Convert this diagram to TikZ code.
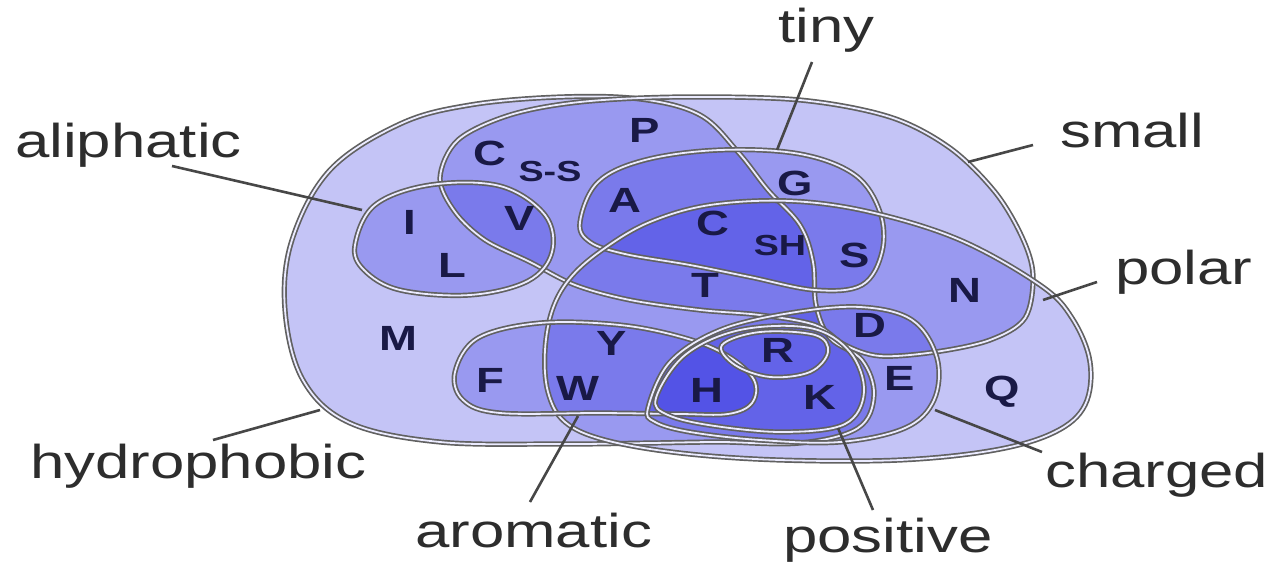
\documentclass[tikz,border=0pt]{standalone}
\usepackage{fontspec}
\setmainfont{Liberation Sans}[FakeStretch=1.3]
\definecolor{setblue}{RGB}{40,40,225}
\definecolor{letterc}{RGB}{25,25,70}
\definecolor{labc}{RGB}{45,45,45}
\begin{document}
\begin{tikzpicture}[x=1pt,y=-1pt,
  setfill/.style={fill=setblue, fill opacity=0.27, draw=none},
  setline/.style={draw=black!62, line width=1.7pt, double=white!92!blue, double distance=1.8pt},
  lab/.style={font=\fontsize{47.5}{50}\selectfont, text=labc, inner sep=0pt, anchor=base west},
  aa/.style={font=\fontsize{35}{36}\selectfont\bfseries, text=letterc, inner sep=0pt},
  sub/.style={font=\fontsize{29}{30}\selectfont\bfseries, text=letterc, inner sep=0pt},
  pointer/.style={draw=black!72, line width=2.6pt}]
\useasboundingbox (0,0) rectangle (1275,563);
\fill[white] (0,0) rectangle (1275,563);

% set outlines (saved)
\path[save path=\hydp] plot[smooth cycle, tension=0.6] coordinates {(400,124) (470,105) (560,97) (640,99) (700,115) (738,152) (768,190) (800,225) (813,262) (816,305) (830,338) (862,360) (874,395) (858,428) (800,443) (720,442) (650,443) (560,444) (440,442) (350,423) (303,380) (285,310) (292,240) (330,170)};
\path[save path=\smallp] plot[smooth cycle, tension=0.55] coordinates {(440,178) (458,140) (510,115) (580,102) (680,97) (800,100) (890,117) (950,148) (995,192) (1022,237) (1033,275) (1025,318) (990,340) (935,352) (880,356) (845,345) (815,325) (760,315) (700,310) (630,300) (575,285) (530,262) (485,240) (455,212)};
\path[save path=\tinyp] plot[smooth cycle, tension=0.6] coordinates {(580,222) (598,182) (645,160) (720,150) (800,154) (855,175) (880,212) (882,252) (862,285) (815,290) (750,277) (690,265) (625,254) (590,242)};
\path[save path=\polarp] plot[smooth cycle, tension=0.6] coordinates {(1040,285) (1072,318) (1090,362) (1085,405) (1055,432) (995,450) (900,460) (780,460) (680,453) (605,440) (565,422) (548,392) (545,350) (553,308) (572,276) (605,248) (650,222) (710,205) (790,201) (870,212) (960,240)};
\path[save path=\aliphp] plot[smooth cycle, tension=0.6] coordinates {(355,245) (375,205) (430,185) (500,186) (545,215) (552,252) (528,281) (470,295) (400,290) (364,270)};
\path[save path=\aromp] plot[smooth cycle, tension=0.6] coordinates {(455,372) (478,338) (540,323) (620,325) (685,338) (728,356) (754,380) (752,403) (728,414) (680,414) (600,413) (500,413) (463,400)};
\path[save path=\chargp] plot[smooth cycle, tension=0.6] coordinates {(648,408) (670,362) (720,330) (790,313) (860,307) (912,320) (937,358) (934,400) (905,428) (840,442) (760,440) (690,432) (655,422)};
\path[save path=\posp] plot[smooth cycle, tension=0.6] coordinates {(656,398) (685,355) (740,330) (810,328) (850,352) (864,392) (845,424) (785,432) (715,426) (668,415)};
\path[save path=\rloopp] plot[smooth cycle, tension=0.6] coordinates {(722,345) (760,332) (815,335) (828,352) (810,372) (770,377) (735,365)};

% fills
\path[setfill, use path=\hydp];
\path[setfill, use path=\smallp];
\path[setfill, use path=\tinyp];
\path[setfill, use path=\polarp];
\path[setfill, use path=\aliphp];
\path[setfill, use path=\aromp];
\path[setfill, use path=\chargp];
\path[setfill, use path=\posp];

% outlines
\path[setline, use path=\hydp];
\path[setline, use path=\smallp];
\path[setline, use path=\tinyp];
\path[setline, use path=\polarp];
\path[setline, use path=\aliphp];
\path[setline, use path=\aromp];
\path[setline, use path=\chargp];
\path[setline, use path=\posp];
\path[setline, use path=\rloopp];

% amino acid letters
\node[aa] (P) at (645,130) {P};
\node[aa] (Css) at (490,153) {C};
\node[sub] (Csssub) at (550,172) {S-S};
\node[aa] (A) at (625,200) {A};
\node[aa] (G) at (795,183) {G};
\node[aa] (V) at (520,218) {V};
\node[aa] (I) at (410,222) {I};
\node[aa] (L) at (452,265) {L};
\node[aa] (Csh) at (713,223) {C};
\node[sub] (Cshsub) at (780,246) {SH};
\node[aa] (S) at (855,255) {S};
\node[aa] (N) at (965,290) {N};
\node[aa] (T) at (705,285) {T};
\node[aa] (M) at (398,338) {M};
\node[aa] (D) at (870,325) {D};
\node[aa] (Y) at (612,343) {Y};
\node[aa] (R) at (778,350) {R};
\node[aa] (F) at (490,380) {F};
\node[aa] (W) at (578,388) {W};
\node[aa] (H) at (707,390) {H};
\node[aa] (K) at (820,397) {K};
\node[aa] (E) at (900,378) {E};
\node[aa] (Q) at (1002,392) {Q};

% labels
\node[lab] (tinyl) at (778,42) {tiny};
\node[lab] (smalll) at (1060,147) {small};
\node[lab] (aliphl) at (15,157) {aliphatic};
\node[lab] (polarl) at (1115,284) {polar};
\node[lab] (hydl) at (30,478) {hydrophobic};
\node[lab] (aroml) at (415,547) {aromatic};
\node[lab] (posl) at (783,552) {positive};
\node[lab] (chargl) at (1045,487) {charged};

% pointer ends
\coordinate (tinyA) at (812,62);   \coordinate (tinyB) at (777,150);
\coordinate (smallA) at (1033,145); \coordinate (smallB) at (968,162);
\coordinate (aliphA) at (172,166); \coordinate (aliphB) at (362,210);
\coordinate (polarA) at (1097,282); \coordinate (polarB) at (1043,300);
\coordinate (hydA) at (213,440);   \coordinate (hydB) at (320,410);
\coordinate (aromA) at (530,502);  \coordinate (aromB) at (578,416);
\coordinate (posA) at (873,510);   \coordinate (posB) at (838,428);
\coordinate (chargA) at (1042,452); \coordinate (chargB) at (935,410);

\draw[pointer] (tinyA) -- (tinyB);
\draw[pointer] (smallA) -- (smallB);
\draw[pointer] (aliphA) -- (aliphB);
\draw[pointer] (polarA) -- (polarB);
\draw[pointer] (hydA) -- (hydB);
\draw[pointer] (aromA) -- (aromB);
\draw[pointer] (posA) -- (posB);
\draw[pointer] (chargA) -- (chargB);
\end{tikzpicture}
\end{document}
